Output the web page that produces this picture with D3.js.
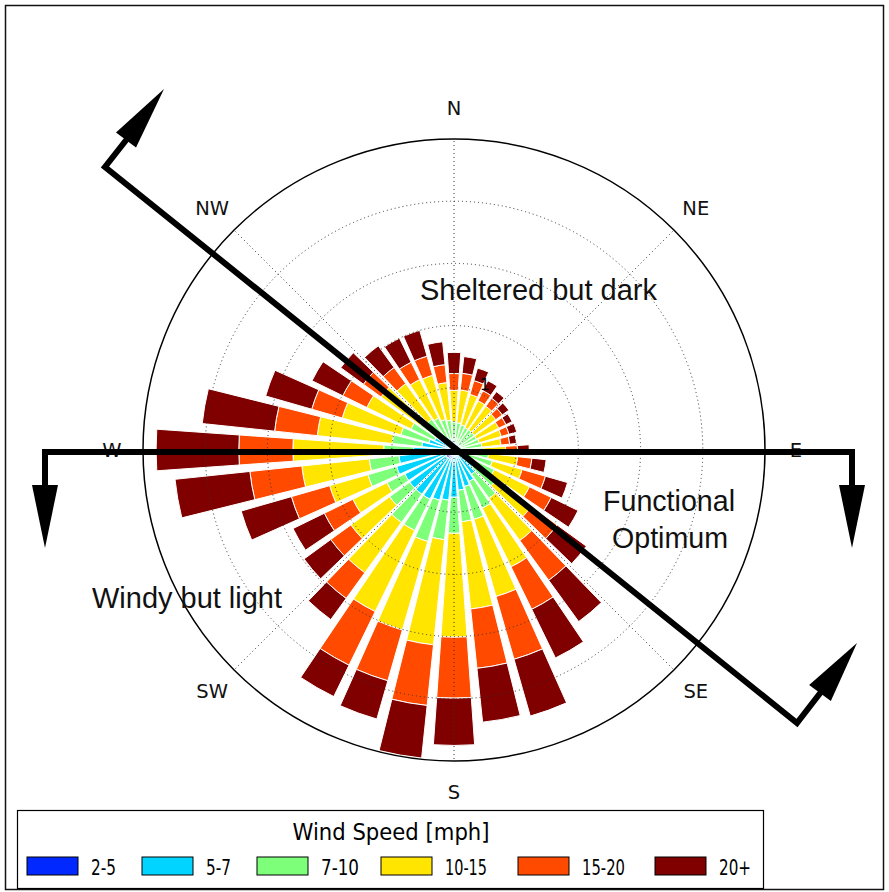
<!DOCTYPE html>
<html><head><meta charset="utf-8">
<script src="https://cdn.jsdelivr.net/npm/d3@7"></script>
<style>body{margin:0;background:#fff}svg{display:block}</style>
</head><body>
<svg id="c" width="889" height="892"></svg>
<script>
// ---------------- DATA ----------------
const directions = [0,10,20,30,40,50,60,70,80,90,100,110,120,130,140,150,160,170,
                    180,190,200,210,220,230,240,250,260,270,280,290,300,310,320,330,340,350];
const speedBins = ["2-5","5-7","7-10","10-15","15-20","20+"];
const binColors = ["#0028ff","#00d4ff","#7dff7a","#ffe500","#ff4a00","#800000"];
// frequency (%) per direction, one array per speed bin
const freq_2_5   = [0.03,0.03,0.03,0.03,0.03,0.03,0.03,0.03,0.03,0.03,0.05,0.05,0.05,0.06,0.06,0.08,0.08,0.10,
                    0.13,0.13,0.16,0.16,0.16,0.16,0.16,0.19,0.23,0.23,0.13,0.10,0.08,0.06,0.06,0.05,0.05,0.05];
const freq_5_7   = [0.10,0.10,0.08,0.08,0.08,0.08,0.08,0.08,0.10,0.13,0.14,0.19,0.27,0.34,0.42,0.48,0.53,0.55,
                    0.63,0.68,0.68,0.72,0.72,0.72,0.72,0.77,0.66,0.42,0.39,0.32,0.27,0.23,0.18,0.18,0.14,0.11];
const freq_7_10  = [0.32,0.31,0.31,0.29,0.29,0.29,0.29,0.31,0.32,0.32,0.37,0.40,0.40,0.43,0.48,0.48,0.55,0.51,
                    0.58,0.64,0.69,0.56,0.56,0.40,0.32,0.48,0.48,0.48,0.48,0.47,0.42,0.39,0.37,0.34,0.32,0.32];
const freq_10_15 = [0.51,0.53,0.51,0.48,0.47,0.43,0.40,0.37,0.31,0.35,0.47,0.50,0.63,0.71,0.84,1.05,1.29,1.41,
                    1.67,1.70,1.48,1.45,1.00,0.77,0.61,0.64,1.09,1.46,1.21,0.98,0.79,0.77,0.71,0.69,0.74,0.61];
const freq_15_20 = [0.27,0.27,0.23,0.18,0.16,0.13,0.13,0.13,0.14,0.19,0.23,0.39,0.39,0.51,0.79,0.76,1.05,0.96,
                    0.98,0.98,0.85,0.96,0.51,0.40,0.51,0.64,0.84,0.87,0.69,0.51,0.43,0.35,0.32,0.31,0.32,0.29];
const freq_20p   = [0.34,0.27,0.21,0.18,0.13,0.13,0.11,0.13,0.11,0.19,0.23,0.37,0.48,0.58,0.82,0.87,0.95,0.87,
                    0.76,0.85,0.64,0.56,0.42,0.53,0.56,0.84,1.21,1.33,1.17,0.77,0.55,0.45,0.43,0.43,0.43,0.37];
const ringTicks = [1,2,3,4];
const ringLabels = ["1"];
const compassAngles = [0,45,90,135,180,225,270,315];
const compassLabels = ["N","NE","E","SE","S","SW","W","NW"];
const legendTitle = "Wind Speed [mph]";
const zoneTexts = ["Sheltered but dark","Functional","Optimum","Windy but light"];
// ---------------- DRAW ----------------
const series = [freq_2_5,freq_5_7,freq_7_10,freq_10_15,freq_15_20,freq_20p];
const svg = d3.select("#c");
const W = 889, H = 892;
const cx = 454, cy = 450, R = 311;

svg.append("rect").attr("x",0).attr("y",0).attr("width",W).attr("height",H).attr("fill","#fff");
// outer frame
svg.append("rect").attr("x",5.5).attr("y",5.5).attr("width",878).attr("height",884)
  .attr("fill","none").attr("stroke","#111").attr("stroke-width",1.5);

const r = d3.scaleLinear().domain([0,5]).range([0,R]);
const ang = d3.scaleLinear().domain([0,360]).range([0,2*Math.PI]);
const color = d3.scaleOrdinal().domain(speedBins).range(binColors);

const g = svg.append("g").attr("transform",`translate(${cx},${cy})`);

// stacked bars
const stack = directions.map((d,i)=>{
  let c=0; return series.map((s,k)=>{const c0=c; c+=s[i]; return {dir:d,bin:speedBins[k],c0,c1:c};});
});
const half = ang(10)*0.8/2;
const arc = d3.arc();
g.append("g").selectAll("g.dir").data(stack).join("g").selectAll("path").data(d=>d).join("path")
  .attr("d",d=>arc({innerRadius:r(d.c0),outerRadius:r(d.c1),startAngle:ang(d.dir)-half,endAngle:ang(d.dir)+half}))
  .attr("fill",d=>color(d.bin)).attr("stroke","#fff").attr("stroke-width",1);

// grid
const grid = g.append("g").attr("fill","none").attr("stroke","#333").attr("stroke-width",1).attr("stroke-dasharray","1,3");
grid.selectAll("circle").data(ringTicks).join("circle").attr("r",d=>r(d));
grid.selectAll("line").data(compassAngles).join("line")
  .attr("x1",0).attr("y1",0)
  .attr("x2",d=>R*Math.sin(ang(d))).attr("y2",d=>-R*Math.cos(ang(d)));
g.append("circle").attr("r",R).attr("fill","none").attr("stroke","#000").attr("stroke-width",1.5);

// ring label
g.selectAll("text.rl").data(ringLabels).join("text").attr("class","rl")
  .attr("x",(d,i)=>r(ringTicks[i])*Math.sin(ang(22.5))+2)
  .attr("y",(d,i)=>-r(ringTicks[i])*Math.cos(ang(22.5))-3)
  .attr("font-family","DejaVu Sans").attr("font-size",16).attr("fill","#000").text(d=>d);

// compass labels
g.selectAll("text.cl").data(compassLabels).join("text").attr("class","cl")
  .attr("x",(d,i)=>342*Math.sin(ang(compassAngles[i])))
  .attr("y",(d,i)=>-342*Math.cos(ang(compassAngles[i])))
  .attr("text-anchor","middle").attr("dominant-baseline","central")
  .attr("font-family","DejaVu Sans").attr("font-size",19.5).attr("fill","#111").text(d=>d);

// zone lines with arrows
const lw = 6;
const lines = svg.append("g").attr("fill","none").attr("stroke","#000").attr("stroke-width",lw).attr("stroke-linejoin","miter");
lines.append("polyline").attr("points","45,488 45,452 852,452 852,488");
lines.append("polyline").attr("points","127,139 105,167 797,723 821,692");
const heads = svg.append("g").attr("fill","#000");
function head(tip, base, w){
  const dx=tip[0]-base[0], dy=tip[1]-base[1], L=Math.hypot(dx,dy), nx=-dy/L*w/2, ny=dx/L*w/2;
  heads.append("path").attr("d",`M${tip[0]},${tip[1]}L${base[0]+nx},${base[1]+ny}L${base[0]-nx},${base[1]-ny}Z`);
}
head([45,548],[45,485],26);
head([852,548],[852,485],26);
head([164,89],[126,140],25);
head([857,643],[820,693],27);

// zone labels
const zx = [420,603,612,92], zy = [300,511,548,608], zw = [237,132,116,190];
svg.selectAll("text.zone").data(zoneTexts).join("text").attr("class","zone")
  .attr("x",(d,i)=>zx[i]).attr("y",(d,i)=>zy[i]).attr("font-family","Liberation Sans, Arial").attr("font-size",29)
  .attr("textLength",(d,i)=>zw[i]).attr("lengthAdjust","spacingAndGlyphs").attr("fill","#111").text(d=>d);

// legend
const lg = svg.append("g");
lg.append("rect").attr("x",17.5).attr("y",810.5).attr("width",746).attr("height",78)
  .attr("fill","#fff").attr("stroke","#000").attr("stroke-width",1.2);
lg.append("text").attr("x",391).attr("y",840).attr("text-anchor","middle").attr("font-family","DejaVu Sans")
  .attr("font-size",23).attr("textLength",197).attr("lengthAdjust","spacingAndGlyphs").text(legendTitle);
const swX = [27,142,257,381,518,655];
const labW = [25,25,38,42,43,32];
lg.selectAll("rect.sw").data(speedBins).join("rect").attr("class","sw")
  .attr("x",(d,i)=>swX[i]).attr("y",857).attr("width",51).attr("height",18)
  .attr("fill",d=>color(d)).attr("stroke","#000").attr("stroke-width",1);
lg.selectAll("text.lab").data(speedBins).join("text").attr("class","lab")
  .attr("x",(d,i)=>swX[i]+64).attr("y",875).attr("font-family","DejaVu Sans").attr("font-size",21)
  .attr("textLength",(d,i)=>labW[i]).attr("lengthAdjust","spacingAndGlyphs").text(d=>d);
</script>
</body></html>
